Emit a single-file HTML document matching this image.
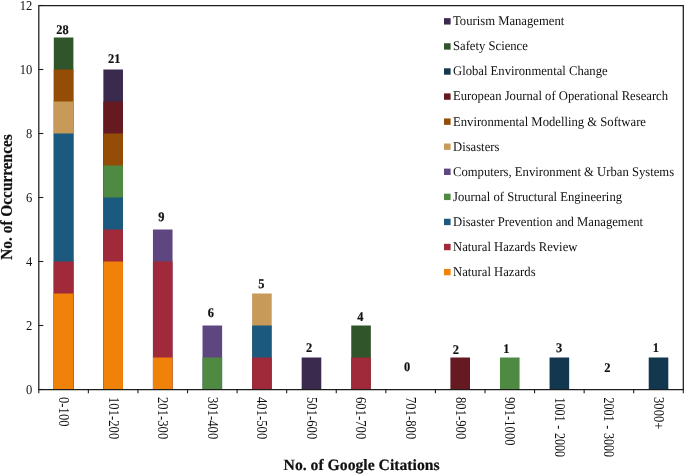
<!DOCTYPE html>
<html><head><meta charset="utf-8"><title>chart</title>
<style>html,body{margin:0;padding:0;background:#fff}svg{display:block}</style></head>
<body>
<svg width="685" height="474" viewBox="0 0 685 474" font-family="&quot;Liberation Serif&quot;, serif">
<rect width="685" height="474" fill="#fff"/>
<rect x="53.79" y="37.50" width="19.6" height="352.00" fill="#30552A"/>
<rect x="53.79" y="69.50" width="19.6" height="320.00" fill="#944D06"/>
<rect x="53.79" y="101.50" width="19.6" height="288.00" fill="#C79A5A"/>
<rect x="53.79" y="133.50" width="19.6" height="256.00" fill="#1B5A7E"/>
<rect x="53.79" y="261.50" width="19.6" height="128.00" fill="#A0293A"/>
<rect x="53.79" y="293.50" width="19.6" height="96.00" fill="#F0820A"/>
<text transform="translate(62.50 34.00) skewX(0.05) scale(0.94 1)" font-size="13.2" font-weight="bold" stroke="#111" stroke-width="0.2" text-anchor="middle" fill="#111">28</text>
<rect x="103.37" y="69.50" width="19.6" height="320.00" fill="#3A2A4E"/>
<rect x="103.37" y="101.50" width="19.6" height="288.00" fill="#651A22"/>
<rect x="103.37" y="133.50" width="19.6" height="256.00" fill="#944D06"/>
<rect x="103.37" y="165.50" width="19.6" height="224.00" fill="#4E8A42"/>
<rect x="103.37" y="197.50" width="19.6" height="192.00" fill="#1B5A7E"/>
<rect x="103.37" y="229.50" width="19.6" height="160.00" fill="#A0293A"/>
<rect x="103.37" y="261.50" width="19.6" height="128.00" fill="#F0820A"/>
<text transform="translate(114.30 63.30) skewX(0.05) scale(0.94 1)" font-size="13.2" font-weight="bold" stroke="#111" stroke-width="0.2" text-anchor="middle" fill="#111">21</text>
<rect x="152.94" y="229.50" width="19.6" height="160.00" fill="#5E4680"/>
<rect x="152.94" y="261.50" width="19.6" height="128.00" fill="#A0293A"/>
<rect x="152.94" y="357.50" width="19.6" height="32.00" fill="#F0820A"/>
<text transform="translate(161.45 221.30) skewX(0.05) scale(0.94 1)" font-size="13.2" font-weight="bold" stroke="#111" stroke-width="0.2" text-anchor="middle" fill="#111">9</text>
<rect x="202.52" y="325.50" width="19.6" height="64.00" fill="#5E4680"/>
<rect x="202.52" y="357.50" width="19.6" height="32.00" fill="#4E8A42"/>
<text transform="translate(210.80 316.70) skewX(0.05) scale(0.94 1)" font-size="13.2" font-weight="bold" stroke="#111" stroke-width="0.2" text-anchor="middle" fill="#111">6</text>
<rect x="252.10" y="293.50" width="19.6" height="96.00" fill="#C79A5A"/>
<rect x="252.10" y="325.50" width="19.6" height="64.00" fill="#1B5A7E"/>
<rect x="252.10" y="357.50" width="19.6" height="32.00" fill="#A0293A"/>
<text transform="translate(261.40 287.50) skewX(0.05) scale(0.94 1)" font-size="13.2" font-weight="bold" stroke="#111" stroke-width="0.2" text-anchor="middle" fill="#111">5</text>
<rect x="301.67" y="357.50" width="19.6" height="32.00" fill="#3A2A4E"/>
<text transform="translate(309.15 351.80) skewX(0.05) scale(0.94 1)" font-size="13.2" font-weight="bold" stroke="#111" stroke-width="0.2" text-anchor="middle" fill="#111">2</text>
<rect x="351.25" y="325.50" width="19.6" height="64.00" fill="#30552A"/>
<rect x="351.25" y="357.50" width="19.6" height="32.00" fill="#A0293A"/>
<text transform="translate(360.35 321.20) skewX(0.05) scale(0.94 1)" font-size="13.2" font-weight="bold" stroke="#111" stroke-width="0.2" text-anchor="middle" fill="#111">4</text>
<text transform="translate(407.10 370.90) skewX(0.05) scale(0.94 1)" font-size="13.2" font-weight="bold" stroke="#111" stroke-width="0.2" text-anchor="middle" fill="#111">0</text>
<rect x="450.40" y="357.50" width="19.6" height="32.00" fill="#651A22"/>
<text transform="translate(455.85 353.50) skewX(0.05) scale(0.94 1)" font-size="13.2" font-weight="bold" stroke="#111" stroke-width="0.2" text-anchor="middle" fill="#111">2</text>
<rect x="499.98" y="357.50" width="19.6" height="32.00" fill="#4E8A42"/>
<text transform="translate(506.45 352.80) skewX(0.05) scale(0.94 1)" font-size="13.2" font-weight="bold" stroke="#111" stroke-width="0.2" text-anchor="middle" fill="#111">1</text>
<rect x="549.56" y="357.50" width="19.6" height="32.00" fill="#12374F"/>
<text transform="translate(559.05 351.90) skewX(0.05) scale(0.94 1)" font-size="13.2" font-weight="bold" stroke="#111" stroke-width="0.2" text-anchor="middle" fill="#111">3</text>
<text transform="translate(607.35 371.70) skewX(0.05) scale(0.94 1)" font-size="13.2" font-weight="bold" stroke="#111" stroke-width="0.2" text-anchor="middle" fill="#111">2</text>
<rect x="648.71" y="357.50" width="19.6" height="32.00" fill="#12374F"/>
<text transform="translate(655.95 351.60) skewX(0.05) scale(0.94 1)" font-size="13.2" font-weight="bold" stroke="#111" stroke-width="0.2" text-anchor="middle" fill="#111">1</text>
<path d="M38.8 5.5H683.3V389.5H38.8Z" fill="none" stroke="#1c1c1c" stroke-width="1.25"/>
<path d="M38.8 389.5h4.5" stroke="#1c1c1c" stroke-width="1.1"/>
<text transform="translate(32.3 393.50) skewX(0.05) scale(0.93 1)" font-size="13.5" text-anchor="end" fill="#111">0</text>
<path d="M38.8 325.5h4.5" stroke="#1c1c1c" stroke-width="1.1"/>
<text transform="translate(32.3 329.50) skewX(0.05) scale(0.93 1)" font-size="13.5" text-anchor="end" fill="#111">2</text>
<path d="M38.8 261.5h4.5" stroke="#1c1c1c" stroke-width="1.1"/>
<text transform="translate(32.3 265.50) skewX(0.05) scale(0.93 1)" font-size="13.5" text-anchor="end" fill="#111">4</text>
<path d="M38.8 197.5h4.5" stroke="#1c1c1c" stroke-width="1.1"/>
<text transform="translate(32.3 201.50) skewX(0.05) scale(0.93 1)" font-size="13.5" text-anchor="end" fill="#111">6</text>
<path d="M38.8 133.5h4.5" stroke="#1c1c1c" stroke-width="1.1"/>
<text transform="translate(32.3 137.50) skewX(0.05) scale(0.93 1)" font-size="13.5" text-anchor="end" fill="#111">8</text>
<path d="M38.8 69.5h4.5" stroke="#1c1c1c" stroke-width="1.1"/>
<text transform="translate(32.3 73.50) skewX(0.05) scale(0.93 1)" font-size="13.5" text-anchor="end" fill="#111">10</text>
<path d="M38.8 5.5h4.5" stroke="#1c1c1c" stroke-width="1.1"/>
<text transform="translate(32.3 9.50) skewX(0.05) scale(0.93 1)" font-size="13.5" text-anchor="end" fill="#111">12</text>
<path d="M38.80 389.5v3.8" stroke="#1c1c1c" stroke-width="1.1"/>
<path d="M88.38 389.5v3.8" stroke="#1c1c1c" stroke-width="1.1"/>
<path d="M137.95 389.5v3.8" stroke="#1c1c1c" stroke-width="1.1"/>
<path d="M187.53 389.5v3.8" stroke="#1c1c1c" stroke-width="1.1"/>
<path d="M237.11 389.5v3.8" stroke="#1c1c1c" stroke-width="1.1"/>
<path d="M286.68 389.5v3.8" stroke="#1c1c1c" stroke-width="1.1"/>
<path d="M336.26 389.5v3.8" stroke="#1c1c1c" stroke-width="1.1"/>
<path d="M385.84 389.5v3.8" stroke="#1c1c1c" stroke-width="1.1"/>
<path d="M435.42 389.5v3.8" stroke="#1c1c1c" stroke-width="1.1"/>
<path d="M484.99 389.5v3.8" stroke="#1c1c1c" stroke-width="1.1"/>
<path d="M534.57 389.5v3.8" stroke="#1c1c1c" stroke-width="1.1"/>
<path d="M584.15 389.5v3.8" stroke="#1c1c1c" stroke-width="1.1"/>
<path d="M633.72 389.5v3.8" stroke="#1c1c1c" stroke-width="1.1"/>
<path d="M683.30 389.5v3.8" stroke="#1c1c1c" stroke-width="1.1"/>
<text transform="translate(58.99 397.0) rotate(90) scale(0.925 1)" font-size="13.7" fill="#111">0-100</text>
<text transform="translate(108.57 397.0) rotate(90) scale(0.925 1)" font-size="13.7" fill="#111">101-200</text>
<text transform="translate(158.14 397.0) rotate(90) scale(0.925 1)" font-size="13.7" fill="#111">201-300</text>
<text transform="translate(207.72 397.0) rotate(90) scale(0.925 1)" font-size="13.7" fill="#111">301-400</text>
<text transform="translate(257.30 397.0) rotate(90) scale(0.925 1)" font-size="13.7" fill="#111">401-500</text>
<text transform="translate(306.87 397.0) rotate(90) scale(0.925 1)" font-size="13.7" fill="#111">501-600</text>
<text transform="translate(356.45 397.0) rotate(90) scale(0.925 1)" font-size="13.7" fill="#111">601-700</text>
<text transform="translate(406.03 397.0) rotate(90) scale(0.925 1)" font-size="13.7" fill="#111">701-800</text>
<text transform="translate(455.60 397.0) rotate(90) scale(0.925 1)" font-size="13.7" fill="#111">801-900</text>
<text transform="translate(505.18 397.0) rotate(90) scale(0.925 1)" font-size="13.7" fill="#111">901-1000</text>
<text transform="translate(554.76 397.5) rotate(90) scale(0.88 1)" font-size="13.7" word-spacing="0.8" fill="#111">1001 - 2000</text>
<text transform="translate(604.33 397.5) rotate(90) scale(0.88 1)" font-size="13.7" word-spacing="0.8" fill="#111">2001 - 3000</text>
<text transform="translate(653.91 397.0) rotate(90) scale(0.925 1)" font-size="13.7" fill="#111">3000+</text>
<text transform="translate(12.4 197) rotate(-90) scale(0.972 1)" font-size="15.8" font-weight="bold" stroke="#111" stroke-width="0.2" text-anchor="middle" fill="#111">No. of Occurrences</text>
<text transform="translate(361.6 469.5) skewX(0.05)" font-size="15.7" font-weight="bold" stroke="#111" stroke-width="0.2" text-anchor="middle" fill="#111">No. of Google Citations</text>
<rect x="444" y="18.15" width="6.6" height="6.4" fill="#3A2A4E"/>
<text transform="translate(453 25.25) skewX(0.05) scale(0.96 1)" font-size="13.2" fill="#111">Tourism Management</text>
<rect x="444" y="43.23" width="6.6" height="6.4" fill="#30552A"/>
<text transform="translate(453 50.32) skewX(0.05) scale(0.96 1)" font-size="13.2" fill="#111">Safety Science</text>
<rect x="444" y="68.30" width="6.6" height="6.4" fill="#12374F"/>
<text transform="translate(453 75.40) skewX(0.05) scale(0.96 1)" font-size="13.2" fill="#111">Global Environmental Change</text>
<rect x="444" y="93.38" width="6.6" height="6.4" fill="#651A22"/>
<text transform="translate(453 100.47) skewX(0.05) scale(0.96 1)" font-size="13.2" fill="#111">European Journal of Operational Research</text>
<rect x="444" y="118.45" width="6.6" height="6.4" fill="#944D06"/>
<text transform="translate(453 125.55) skewX(0.05) scale(0.96 1)" font-size="13.2" fill="#111">Environmental Modelling &amp; Software</text>
<rect x="444" y="143.52" width="6.6" height="6.4" fill="#C79A5A"/>
<text transform="translate(453 150.62) skewX(0.05) scale(0.96 1)" font-size="13.2" fill="#111">Disasters</text>
<rect x="444" y="168.60" width="6.6" height="6.4" fill="#5E4680"/>
<text transform="translate(453 175.70) skewX(0.05) scale(0.96 1)" font-size="13.2" fill="#111">Computers, Environment &amp; Urban Systems</text>
<rect x="444" y="193.67" width="6.6" height="6.4" fill="#4E8A42"/>
<text transform="translate(453 200.78) skewX(0.05) scale(0.96 1)" font-size="13.2" fill="#111">Journal of Structural Engineering</text>
<rect x="444" y="218.75" width="6.6" height="6.4" fill="#1B5A7E"/>
<text transform="translate(453 225.85) skewX(0.05) scale(0.96 1)" font-size="13.2" fill="#111">Disaster Prevention and Management</text>
<rect x="444" y="243.82" width="6.6" height="6.4" fill="#A0293A"/>
<text transform="translate(453 250.92) skewX(0.05) scale(0.96 1)" font-size="13.2" fill="#111">Natural Hazards Review</text>
<rect x="444" y="268.90" width="6.6" height="6.4" fill="#F0820A"/>
<text transform="translate(453 276.00) skewX(0.05) scale(0.96 1)" font-size="13.2" fill="#111">Natural Hazards</text>
</svg>
</body></html>
